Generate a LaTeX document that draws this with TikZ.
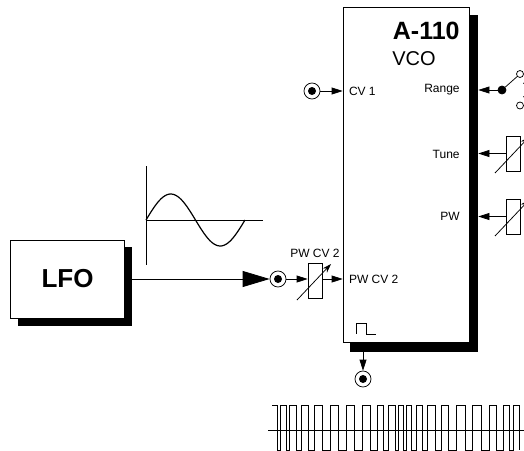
\documentclass[tikz,border=0pt]{standalone}
\usepackage{fontspec}
\setmainfont{Liberation Sans}
\usetikzlibrary{positioning,arrows.meta}

\begin{document}
\begin{tikzpicture}[
  x=1pt, y=-1pt,
  line width=0.75pt,
  node distance=6pt and 6pt,
  modulebox/.style={draw, fill=white, minimum width=#1, inner sep=0pt},
  shadowbox/.style={fill=black, inner sep=0pt},
  jack/.style={draw, circle, fill=white, minimum size=16pt, inner sep=0pt},
  potbox/.style={draw, fill=white, minimum width=14pt, minimum height=35pt, inner sep=0pt},
  portlabel/.style={font=\fontsize{12}{12}\selectfont, inner sep=0pt},
  signal/.style={-{Triangle[length=11pt,width=7pt]}},
  bigsignal/.style={-{Triangle[length=27pt,width=16pt]}},
  trimmer/.style={-{Stealth[length=9pt,width=6pt]}},
  wave/.style={line width=0.7pt}
]
  \useasboundingbox (0,0) rectangle (524,450);

  % VCO module
  \node[shadowbox, minimum width=128pt, minimum height=337pt] (vcoshadow) at (414,183.5) {};
  \node[modulebox=126.5pt, minimum height=335pt] (vcobox) at (406.25,174.5) {};
  \node[anchor=east, inner sep=0pt, font=\fontsize{25}{25}\selectfont\bfseries] (vcotitle) at (460,31) {A-110};
  \node[anchor=west, inner sep=0pt, font=\fontsize{20}{20}\selectfont] (vconame) at (392,59) {VCO};

  % LFO module
  \node[shadowbox, minimum width=114pt, minimum height=79pt] (lfoshadow) at (75,286.5) {};
  \node[modulebox=114pt, minimum height=78pt] (lfobox) at (67.5,279) {};
  \node[font=\fontsize{26}{26}\selectfont\bfseries, inner sep=0pt] (lfotitle) at (lfobox.center) {LFO};

  % inputs
  \node[jack] (jackcv) at (312,91) {};
  \node[jack] (jacklfo) at (278,279) {};
  \node[potbox] (potcv) at (315,280.5) {};
  \node[jack] (jackout) at (363,379) {};
  \foreach \jack in {jackcv,jacklfo,jackout}
    \fill (\jack.center) circle (4pt);
  \coordinate (portcv) at (vcobox.west |- jackcv);
  \coordinate (portpwm) at (vcobox.west |- jacklfo);
  \coordinate (portout) at (vcoshadow.south -| jackout);
  \node[portlabel, right=6pt of portcv] (labelcv) {CV 1};
  \node[portlabel, right=6pt of portpwm] (labelpwm) {PW CV 2};
  \node[portlabel, above=5pt of potcv] (labelpot) {PW CV 2};

  % front panel controls
  \node[draw, circle, fill=black, minimum size=8pt, inner sep=0pt] (switchdot) at (502,90) {};
  \node[draw, circle, fill=white, minimum size=7pt, inner sep=0pt] (switchtop) at (520,74) {};
  \node[draw, circle, fill=white, minimum size=7pt, inner sep=0pt] (switchbot) at (520,105.5) {};
  \node[circle, fill=black, minimum size=1.2pt, inner sep=0pt] (switchmida) at (523.7,83.3) {};
  \node[circle, fill=black, minimum size=1.2pt, inner sep=0pt] (switchmidb) at (523.7,96.7) {};
  \node[potbox] (pottune) at (513,153.5) {};
  \node[potbox] (potpw) at (513,216.5) {};
  \node[portlabel, anchor=east] (labelrange) at (460,90) {Range};
  \node[portlabel, anchor=east] (labeltune) at (460,154) {Tune};
  \node[portlabel, anchor=east] (labelpw) at (460,216) {PW};

  % connectors
  \draw[signal] (jackcv) -- (portcv);
  \draw[signal] (jacklfo) -- (potcv.west |- jacklfo);
  \draw[signal] (potcv.east |- jacklfo) -- (portpwm);
  \draw[bigsignal] (lfoshadow.east |- jacklfo) -- (jacklfo);
  \draw[signal] (portout) -- (jackout);
  \draw[signal] (switchdot) -- (vcoshadow.east |- switchdot);
  \draw (switchdot) -- (switchtop);
  \draw[signal] (pottune) -- (vcoshadow.east |- pottune);
  \draw[signal] (potpw) -- (vcoshadow.east |- potpw);
  \foreach \pot in {potcv,pottune,potpw}
    \draw[trimmer] ([shift={(-18,19.5)}]\pot.center) -- ([shift={(16,-16.5)}]\pot.center);

  % pulse symbol
  \draw[line width=1pt] (356,333.5) -- (356,323) -- (366,323) -- (366,334) -- (375.5,334);

  % sine scope
  \coordinate (axistop) at (146,166);
  \coordinate (axisbot) at (146,265);
  \coordinate (axisend) at (263,220);
  \draw (axistop) -- (axisbot);
  \draw (axistop |- axisend) -- (axisend);
  \draw[line width=1.2pt] plot[domain=0:99, samples=60, smooth] ({146+\x},{220-26*sin(\x/99*360)});

  % pulse width modulated output
  \draw[wave] (268,430) -- (524,430);
  \draw[wave] (272,405) -- (277,405) -- (277,450)
    \foreach \xa/\xb in {280/286,289/296,301/308,314/322,330/338,346/354,362/370,377/383,388/395,398/403,406/411,416/422,427/435,441/448,456/465,472/481,489/496,503/509,513/519}
      { -- (\xa,450) -- (\xa,405) -- (\xb,405) -- (\xb,450) };
\end{tikzpicture}
\end{document}
